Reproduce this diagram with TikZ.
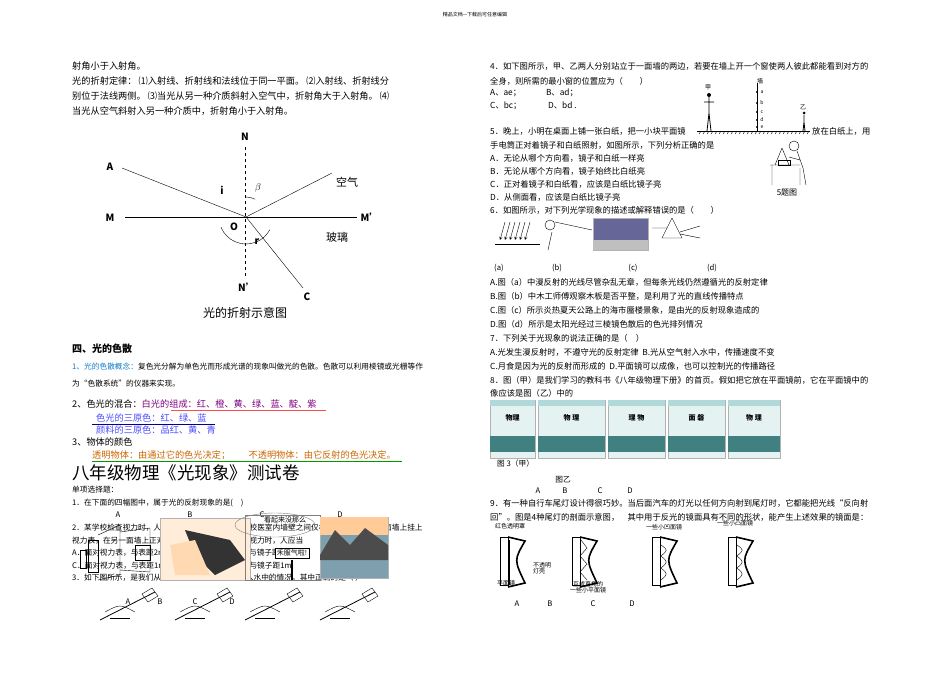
\documentclass[tikz,border=0pt]{standalone}
\usepackage{fontspec}
\setmainfont{Noto Sans CJK SC}
\usetikzlibrary{patterns}
\begin{document}
\begin{tikzpicture}[x=1pt,y=-1pt,
 t/.style={anchor=west,inner sep=0pt,font=\fontsize{9.2}{10}\selectfont},
 s/.style={anchor=west,inner sep=0pt,font=\fontsize{7.7}{8}\selectfont},
 rr/.style={anchor=west,inner sep=0pt,font=\fontsize{8.3}{9}\selectfont},
 lab/.style={inner sep=0pt,font=\bfseries\itshape\fontsize{10}{10}\selectfont},
 pic/.style={draw=gray!60,fill=#1}]
\useasboundingbox (0,0) rectangle (950,672);
\fill[white] (0,0) rectangle (950,672);
\node[inner sep=0,font=\fontsize{5}{5}\selectfont] (hdr) at (475,15) {精品文档---下载后可任意编辑};
% ---------- left column text
\node[t] (l1) at (72,66) {射角小于入射角。};
\node[t] (l2) at (72,81) {光的折射定律： ⑴入射线、折射线和法线位于同一平面。 ⑵入射线、折射线分};
\node[t] (l3) at (72,96) {别位于法线两侧。 ⑶当光从另一种介质斜射入空气中，折射角大于入射角。 ⑷};
\node[t] (l4) at (72,111) {当光从空气斜射入另一种介质中，折射角小于入射角。};
% refraction diagram
\coordinate (O) at (246,217);
\draw[dashed] (245,147) -- (245,277);
\draw (125,217) -- (357,217);
\draw (122,168) -- (O) -- (332,173);
\draw (O) -- (303,288);
\draw (O) ++(158:27) arc (158:28:27);
\draw (O) ++(270:20) arc (270:297:20);
\node[lab] (N) at (245,137) {N};
\node[lab] (Np) at (247,287) {N'};
\node[lab] (A) at (110,167) {A};
\node[lab] (M) at (110,218) {M};
\node[lab] (Mp) at (370,217) {M'};
\node[lab] (Ol) at (234,227) {O};
\node[lab] (C) at (307,297) {C};
\node[lab] (i) at (222,190) {i};
\node[lab] (b) at (258,188) {$\beta$};
\node[lab] (r) at (257,242) {r};
\node[inner sep=0,font=\fontsize{11}{11}\selectfont] (air) at (347,182) {空气};
\node[inner sep=0,font=\fontsize{11}{11}\selectfont] (gl) at (337,237) {玻璃};
\node[inner sep=0,font=\fontsize{12}{12}\selectfont] (cap) at (245,313) {光的折射示意图};
% section 4
\node[t,font=\bfseries\fontsize{10}{10}\selectfont] (s4) at (72,349) {四、光的色散};
\node[s] (s41) at (72,367) {\textcolor{cyan!60!blue}{1、光的色散概念：}复色光分解为单色光而形成光谱的现象叫做光的色散。色散可以利用棱镜或光栅等作};
\node[s] (s41b) at (72,384) {为“色散系统”的仪器来实现。};
\node[t] (s42) at (72,404) {2、色光的混合：\textcolor{violet}{白光的组成：红、橙、黄、绿、蓝、靛、紫}};
\draw[red!70] (171,410) -- (326,410);
\node[t,text=blue!70] (s42b) at (96,418) {色光的三原色：红、绿、蓝};
\draw[blue!60!black] (92,424) -- (215,424);
\node[t,text=blue!70] (s42c) at (96,430) {颜料的三原色：品红、黄、青};
\node[t] (s43) at (72,442) {3、物体的颜色};
\node[t,text=orange!80!black] (s43b) at (92,455) {透明物体：由通过它的色光决定；\quad\quad 不透明物体：由它反射的色光决定。};
\draw[green!60!black] (92,461) -- (402,461);
\node[t,font=\fontsize{17.5}{18}\selectfont] (title) at (72,473) {八年级物理《光现象》测试卷};
\node[s] (q0) at (72,490) {单项选择题：};
\node[s] (q1) at (72,503) {1．在下面的四幅图中，属于光的反射现象的是(\quad)};
\foreach \x/\l in {118/A,190/B,262/C,340/D} \node[inner sep=0,font=\fontsize{7.7}{8}\selectfont] at (\x,515) {\l};
\node[s] (q2) at (72,528) {2．某学校检查视力时，人眼与视力表应相距5m，但校医室内墙壁之间仅相距4m，于是在一面墙上挂上};
\node[s] (q2b) at (72,541) {视力表，在另一面墙上正对视力表挂一平面镜，检查视力时，人应当};
\node[s] (q2c) at (72,553) {A．面对视力表，与表距2m \qquad\qquad B．面对镜子，与镜子距3m};
\node[s] (q2d) at (72,566) {C．面对视力表，与表距1m \qquad\qquad D．面对镜子，与镜子距1m};
\node[s] (q3) at (72,578) {3．如下图所示，是我们从水面上方看到的筷子斜插入水中的情况，其中正确的是（ ）};
% pictures q1
\draw (88,540) rectangle (98,572); \draw (98,535) -- (120,525) -- (120,575) -- (98,580);
\draw (120,532) -- (150,528) -- (150,572) -- (120,570);
\draw (135,545) rectangle (150,560); \draw (80,550) rectangle (86,568);
\fill[pic=orange!15] (160,518) rectangle (250,580);
\fill[black!80] (185,530) -- (230,540) -- (245,560) -- (215,575) -- (195,555) -- cycle;
\fill[orange!30] (170,545) -- (195,540) -- (210,575) -- (175,575) -- cycle;
\draw[gray] (245,515) rectangle (320,580);
\draw[gray] (275,525) ellipse (40 and 12);
\node[draw,fill=white,inner sep=2pt,font=\fontsize{7}{7}\selectfont] (sign) at (292,553) {禾服气啦!};
\draw[line width=2pt] (292,560) -- (292,580);
\node[inner sep=0,font=\fontsize{7}{7}\selectfont] (thk) at (285,520) {看起来没那么};
\fill[pic=cyan!30!gray] (320,517) rectangle (388,578);
\fill[orange!40] (320,517) rectangle (388,535);
\fill[black!70] (320,555) -- (335,530) -- (350,545) -- (365,528) -- (388,545) -- (388,560) -- (320,560) -- cycle;
\foreach \x in {100,175,245,320}{
 \draw[thick] (\x,620) -- (\x+55,592);
 \draw (\x+42,594) -- (\x+52,588) -- (\x+58,596) -- (\x+48,602) -- cycle;
 \draw (\x+5,612) .. controls (\x+20,604) .. (\x+35,612);
 \draw (\x+10,618) -- (\x+30,618);}
\foreach \x/\l in {128/A,160/B,195/C,232/D} \node[inner sep=0,font=\fontsize{7.7}{8}\selectfont] at (\x,602) {\l};
% ---------- right column
\node[rr] (r4) at (490,66) {4．如下图所示，甲、乙两人分别站立于一面墙的两边，若要在墙上开一个窗使两人彼此都能看到对方的};
\node[rr] (r4b) at (490,81) {全身，则所需的最小窗的位置应为（\qquad）};
\node[rr] (r4c) at (490,93) {A、ae；\qquad\quad B、ad；};
\node[rr] (r4d) at (490,106) {C、bc；\qquad\quad\ D、bd\ .};
% wall figure
\draw (697,131) -- (810,131);
\foreach \x in {699,703,...,807} \draw (\x,134) -- (\x+2,131);
\draw (757,83) -- (757,131);
\foreach \y/\l in {92/a,103/b,112/c,120/d,127/e}{\fill (757,\y) circle (1.1); \node[inner sep=0,font=\itshape\fontsize{5}{5}\selectfont] at (762,\y) {\l};}
\node[inner sep=0,font=\fontsize{6}{6}\selectfont] (qiang) at (760,81) {墙};
\node[inner sep=0,font=\fontsize{6}{6}\selectfont] (jia) at (708,87) {甲};
\fill (709,95) circle (2); \draw[thick] (709,97) -- (709,113) (709,113) -- (707,131) (709,113) -- (711,131) (704,102) -- (714,102);
\node[inner sep=0,font=\fontsize{6}{6}\selectfont] (yi) at (803,107) {乙};
\fill (804,113) circle (1.5); \draw[thick] (804,115) -- (804,122) (804,122) -- (803,131) (804,122) -- (805,131);
\node[rr] (r5) at (490,131) {5．晚上，小明在桌面上铺一张白纸，把一小块平面镜};
\node[rr] (r5x) at (812,131) {放在白纸上，用};
\node[rr] (r5b) at (490,145) {手电筒正对着镜子和白纸照射，如图所示，下列分析正确的是};
\node[rr] (r5c) at (490,158) {A．无论从哪个方向看，镜子和白纸一样亮};
\node[rr] (r5d) at (490,171) {B．无论从哪个方向看，镜子始终比白纸亮};
\node[rr] (r5e) at (490,184) {C．正对着镜子和白纸看，应该是白纸比镜子亮};
\node[rr] (r5f) at (490,197) {D．从侧面看，应该是白纸比镜子亮};
\node[inner sep=0,font=\fontsize{8}{8}\selectfont] (r5g) at (787,193) {5题图};
\draw (770,165) -- (800,165) (772,165) -- (772,185) (782,148) -- (775,165) (782,148) -- (789,165);
\draw (778,160) rectangle (790,165);
\draw (794,146) circle (5); \draw (797,151) -- (803,168) (789,157) -- (800,160) (800,168) -- (800,185) (803,168) -- (806,185);
\node[rr] (r6) at (490,210) {6．如图所示，对下列光学现象的描述或解释错误的是（\qquad）};
\foreach \k in {0,...,5} \draw[->,>=stealth] (505+\k*5,222) -- (500+\k*5,240);
\draw (495,244) -- (540,244);
\draw (550,225) circle (5); \draw (555,222) -- (592,230) (552,232) -- (548,250);
\fill[pic=blue!20!gray] (593,218) rectangle (648,250);
\fill[gray!50] (593,240) rectangle (648,250);
\draw (662,238) -- (672,218) -- (682,238) -- cycle; \draw (652,228) -- (667,228) (680,232) -- (700,226) (680,234) -- (700,238);
\foreach \x/\l in {499/(a),557/(b),633/(c),712/(d)} \node[inner sep=0,font=\fontsize{7.7}{8}\selectfont] at (\x,268) {\l};
\node[rr] (r6a) at (490,282) {A.图（a）中漫反射的光线尽管杂乱无章，但每条光线仍然遵循光的反射定律};
\node[rr] (r6b) at (490,296) {B.图（b）中木工师傅观察木板是否平整，是利用了光的直线传播特点};
\node[rr] (r6c) at (490,310) {C.图（c）所示炎热夏天公路上的海市蜃楼景象，是由光的反射现象造成的};
\node[rr] (r6d) at (490,324) {D.图（d）所示是太阳光经过三棱镜色散后的色光排列情况};
\node[rr] (r7) at (490,338) {7．下列关于光现象的说法正确的是（\quad）};
\node[rr] (r7a) at (490,352) {A.光发生漫反射时，不遵守光的反射定律\ \ B.光从空气射入水中，传播速度不变};
\node[rr] (r7b) at (490,366) {C.月食是因为光的反射而形成的\ \ D.平面镜可以成像，也可以控制光的传播路径};
\node[rr] (r8) at (490,380) {8．图（甲）是我们学习的教科书《八年级物理下册》的首页。假如把它放在平面镜前，它在平面镜中的};
\node[rr] (r8b) at (490,393) {像应该是图（乙）中的};
\foreach \a/\b/\w in {490/535/物理,538/605/物\ 理,608/665/理\ 物,668/725/面\ 磐,728/780/物\ 理}{
 \fill[pic=teal!10] (\a,400) rectangle (\b,458);
 \fill[teal!30] (\a,400) rectangle (\b,406);
 \fill[gray!50!teal] (\a,436) rectangle (\b,452);
 \node[inner sep=0,font=\bfseries\fontsize{7}{7}\selectfont] at ({(\a+\b)/2},418) {\w};}
\node[s,fill=white,inner sep=1pt] (r8c) at (496,464) {图 3（甲）};
\node[inner sep=0,font=\fontsize{7.7}{8}\selectfont] (r8d) at (563,480) {图乙};
\foreach \x/\l in {538/A,565/B,600/C,630/D} \node[inner sep=0,font=\fontsize{7.7}{8}\selectfont] at (\x,491) {\l};
\node[rr] (r9) at (490,503) {9．有一种自行车尾灯设计得很巧妙。当后面汽车的灯光以任何方向射到尾灯时，它都能把光线“反向射};
\node[rr] (r9b) at (490,517) {回”。图是4种尾灯的剖面示意图，\quad 其中用于反光的镜面具有不同的形状，能产生上述效果的镜面是：};
% tail lights
\foreach \x in {500,572,652,728}{
 \draw (\x,537) rectangle (\x+8,585);
 \draw[line width=1.6pt] (\x+8,537) -- (\x+25,541) .. controls (\x+14,560) .. (\x+25,583) -- (\x+8,587);}
\draw[line width=1.1pt] (509,540) -- (509,585);
\draw (581,540) -- (587,548) -- (580,556) -- (587,564) -- (580,572) -- (587,580);
\draw (661,545) .. controls (668,550) .. (661,556) .. controls (668,562) .. (661,568) .. controls (668,574) .. (661,580);
\draw (737,545) .. controls (744,550) .. (737,556) .. controls (744,562) .. (737,568) .. controls (744,574) .. (737,580);
\node[inner sep=0,font=\fontsize{6}{6}\selectfont] (lA1) at (510,526) {红色透明罩};
\node[inner sep=0,font=\fontsize{6}{6}\selectfont,align=left] (lA2) at (542,568) {不透明\\灯壳};
\node[inner sep=0,font=\fontsize{6}{6}\selectfont] (lA3) at (506,583) {平面镜};
\node[inner sep=0,font=\fontsize{6}{6}\selectfont,align=center] (lB) at (588,587) {互成直角的\\一些小平面镜};
\node[inner sep=0,font=\fontsize{6}{6}\selectfont] (lC) at (664,527) {一些小凹面镜};
\node[inner sep=0,font=\fontsize{6}{6}\selectfont] (lD) at (735,523) {一些小凸面镜};
\foreach \x/\l in {517/A,550/B,593/C,632/D} \node[inner sep=0,font=\fontsize{7.7}{8}\selectfont] at (\x,604) {\l};
\end{tikzpicture}
\end{document}
